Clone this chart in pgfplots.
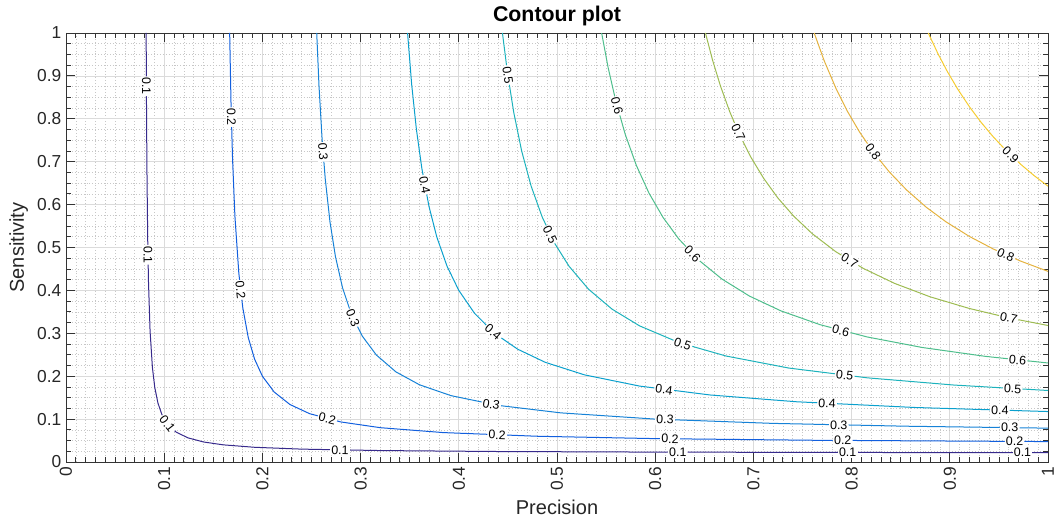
\documentclass[border=0pt]{standalone}
\usepackage{fontspec}
\setmainfont{Liberation Sans}
\usepackage{pgfplots}
\pgfplotsset{compat=1.18}
\definecolor{c1}{RGB}{55,42,140}
\definecolor{c2}{RGB}{18,95,222}
\definecolor{c3}{RGB}{22,130,215}
\definecolor{c4}{RGB}{10,160,205}
\definecolor{c5}{RGB}{28,178,188}
\definecolor{c6}{RGB}{78,190,140}
\definecolor{c7}{RGB}{158,188,82}
\definecolor{c8}{RGB}{228,178,62}
\definecolor{c9}{RGB}{246,204,48}
\tikzset{lbl/.style={font=\fontsize{9.3}{10}\selectfont, fill=white, inner sep=0.9pt}}
\begin{document}
\begin{tikzpicture}
\begin{axis}[
  scale only axis, width=736.5pt, height=321.75pt,
  xmin=0, xmax=1, ymin=0, ymax=1,
  xtick={0,0.1,0.2,0.3,0.4,0.5,0.6,0.7,0.8,0.9,1},
  ytick={0,0.1,0.2,0.3,0.4,0.5,0.6,0.7,0.8,0.9,1},
  minor x tick num=9, minor y tick num=3,
  grid=both,
  major grid style={line width=0.55pt, draw=black!14},
  minor grid style={line width=0.45pt, draw=black!22, dash pattern=on 0.6pt off 1.6pt},
  tick align=inside,
  major tick length=6.75pt, minor tick length=3.75pt,
  axis line style={draw=black!80, line width=0.6pt},
  every tick/.style={draw=black!80, line width=0.6pt},
  /pgf/number format/assume math mode=true,
  ticklabel style={font=\fontsize{13}{15}\selectfont, text=black!85},
  x tick label style={rotate=90, anchor=east},
  xlabel={Precision}, ylabel={Sensitivity},
  label style={font=\fontsize{15}{18}\selectfont, text=black!85},
  title={Contour plot},
  title style={font=\bfseries\fontsize{16}{19}\selectfont, yshift=-4pt},
  every axis plot/.append style={line width=0.75pt, no marks},
]
% level 0.1
\addplot[c1] coordinates {(0.08163,1.0)(0.082,0.82)(0.0824,0.6867)(0.0832,0.52)(0.084,0.42)(0.0856,0.3057)(0.088,0.22)(0.0904,0.1738)(0.0936,0.1376)(0.0976,0.1109)(0.104,0.0867)(0.112,0.07)(0.124,0.0564)(0.14,0.0467)(0.16,0.04)(0.192,0.0343)(0.24,0.03)(0.32,0.02667)(0.44,0.02444)(0.6,0.02308)(0.8,0.02222)(1.0,0.02174)};
% level 0.2
\addplot[c2] coordinates {(0.16667,1.0)(0.168,0.84)(0.1696,0.7067)(0.172,0.5733)(0.176,0.44)(0.18,0.36)(0.1856,0.29)(0.192,0.24)(0.2,0.2)(0.212,0.1631)(0.228,0.1341)(0.248,0.1127)(0.28,0.0933)(0.32,0.08)(0.384,0.0686)(0.48,0.06)(0.6,0.0545)(0.76,0.0507)(1.0,0.0476)};
% level 0.3
\addplot[c3] coordinates {(0.25532,1.0)(0.2576,0.8782)(0.2608,0.7523)(0.264,0.66)(0.2688,0.56)(0.2744,0.4786)(0.2816,0.4062)(0.2904,0.3457)(0.3016,0.2938)(0.316,0.2495)(0.336,0.21)(0.36,0.18)(0.392,0.1547)(0.44,0.132)(0.504,0.1145)(0.6,0.1)(0.72,0.09)(0.856,0.0834)(1.0,0.0789)};
% level 0.4
\addplot[c4] coordinates {(0.34783,1.0)(0.352,0.88)(0.3568,0.7757)(0.3624,0.6838)(0.3696,0.5961)(0.3776,0.5244)(0.388,0.4565)(0.4,0.4)(0.416,0.3467)(0.436,0.3007)(0.46,0.2629)(0.488,0.2324)(0.528,0.2031)(0.584,0.177)(0.656,0.1562)(0.744,0.1404)(0.864,0.1271)(1.0,0.1176)};
% level 0.5
\addplot[c5] coordinates {(0.44444,1.0)(0.4496,0.9065)(0.456,0.8143)(0.464,0.725)(0.4736,0.6435)(0.4848,0.5717)(0.4976,0.5098)(0.512,0.4571)(0.532,0.403)(0.556,0.3564)(0.584,0.3174)(0.624,0.2786)(0.672,0.2471)(0.736,0.219)(0.816,0.1962)(0.904,0.1794)(1.0,0.1667)};
% level 0.6
\addplot[c6] coordinates {(0.54545,1.0)(0.552,0.92)(0.56,0.84)(0.5696,0.7629)(0.5808,0.6914)(0.5936,0.627)(0.608,0.57)(0.624,0.52)(0.644,0.4712)(0.668,0.4264)(0.696,0.3867)(0.728,0.3523)(0.768,0.32)(0.816,0.2914)(0.872,0.2669)(0.936,0.2463)(1.0,0.2308)};
% level 0.7
\addplot[c7] coordinates {(0.65116,1.0)(0.6584,0.9367)(0.6664,0.8768)(0.676,0.8159)(0.6864,0.7603)(0.6976,0.7098)(0.7104,0.6613)(0.7248,0.6157)(0.7408,0.5736)(0.76,0.532)(0.784,0.49)(0.812,0.4511)(0.844,0.4161)(0.88,0.385)(0.92,0.3578)(0.96,0.336)(1.0,0.3182)};
% level 0.8
\addplot[c8] coordinates {(0.7619,1.0)(0.772,0.9358)(0.784,0.8711)(0.796,0.8164)(0.808,0.7695)(0.8224,0.7214)(0.8384,0.6761)(0.856,0.6341)(0.876,0.5939)(0.896,0.56)(0.92,0.5257)(0.944,0.4968)(0.972,0.4684)(1.0,0.4444)};
% level 0.9
\addplot[c9] coordinates {(0.87805,1.0)(0.888,0.9514)(0.8976,0.9097)(0.908,0.8694)(0.92,0.828)(0.932,0.7913)(0.944,0.7586)(0.9576,0.7255)(0.972,0.6943)(0.9856,0.668)(1.0,0.6429)};
% labels 0.1
\node[lbl, rotate=-89.7] at (axis cs:0.08187,0.876) {0.1};
\node[lbl, rotate=-89.0] at (axis cs:0.08346,0.483) {0.1};
\node[lbl, rotate=-52.4] at (axis cs:0.1032,0.089) {0.1};
\node[lbl, rotate=-1.0] at (axis cs:0.279,0.028) {0.1};
\node[lbl, rotate=-0.2] at (axis cs:0.623,0.0229) {0.1};
\node[lbl] at (axis cs:0.796,0.0222) {0.1};
\node[lbl] at (axis cs:0.974,0.0218) {0.1};
% labels 0.2
\node[lbl, rotate=-88.6] at (axis cs:0.16838,0.804) {0.2};
\node[lbl, rotate=-83.6] at (axis cs:0.17773,0.401) {0.2};
\node[lbl, rotate=-14.0] at (axis cs:0.266,0.1004) {0.2};
\node[lbl, rotate=-2.1] at (axis cs:0.439,0.0629) {0.2};
\node[lbl, rotate=-0.8] at (axis cs:0.615,0.0541) {0.2};
\node[lbl, rotate=-0.4] at (axis cs:0.791,0.0501) {0.2};
\node[lbl, rotate=-0.25] at (axis cs:0.966,0.0479) {0.2};
% labels 0.3
\node[lbl, rotate=-85.7] at (axis cs:0.26172,0.723) {0.3};
\node[lbl, rotate=-66.6] at (axis cs:0.29217,0.336) {0.3};
\node[lbl, rotate=-9.6] at (axis cs:0.433,0.1346) {0.3};
\node[lbl, rotate=-2.6] at (axis cs:0.61,0.0989) {0.3};
\node[lbl, rotate=-1.2] at (axis cs:0.787,0.0863) {0.3};
\node[lbl, rotate=-0.7] at (axis cs:0.961,0.0800) {0.3};
% labels 0.4
\node[lbl, rotate=-79.6] at (axis cs:0.36523,0.646) {0.4};
\node[lbl, rotate=-40.2] at (axis cs:0.435,0.3026) {0.4};
\node[lbl, rotate=-7.6] at (axis cs:0.609,0.1686) {0.4};
\node[lbl, rotate=-3.1] at (axis cs:0.775,0.1363) {0.4};
\node[lbl, rotate=-1.6] at (axis cs:0.951,0.1206) {0.4};
% labels 0.5
\node[lbl, rotate=-81.9] at (axis cs:0.44988,0.902) {0.5};
\node[lbl, rotate=-63.7] at (axis cs:0.493,0.5301) {0.5};
\node[lbl, rotate=-18.6] at (axis cs:0.628,0.2754) {0.5};
\node[lbl, rotate=-6.5] at (axis cs:0.793,0.2018) {0.5};
\node[lbl, rotate=-3.1] at (axis cs:0.964,0.1709) {0.5};
% labels 0.6
\node[lbl, rotate=-75.3] at (axis cs:0.56113,0.83) {0.6};
\node[lbl, rotate=-45.2] at (axis cs:0.638,0.4846) {0.6};
\node[lbl, rotate=-14.8] at (axis cs:0.789,0.3064) {0.6};
\node[lbl, rotate=-6.0] at (axis cs:0.969,0.2378) {0.6};
% labels 0.7
\node[lbl, rotate=-65.6] at (axis cs:0.68464,0.769) {0.7};
\node[lbl, rotate=-31.2] at (axis cs:0.798,0.4694) {0.7};
\node[lbl, rotate=-12.1] at (axis cs:0.96,0.336) {0.7};
% labels 0.8
\node[lbl, rotate=-53.5] at (axis cs:0.82188,0.723) {0.8};
\node[lbl, rotate=-24.0] at (axis cs:0.957,0.483) {0.8};
% labels 0.9
\node[lbl, rotate=-44.1] at (axis cs:0.96179,0.716) {0.9};
\end{axis}
\pgfresetboundingbox
\path[use as bounding box] ([shift={(-49.5pt,-48.75pt)}]current axis.south west) rectangle ([shift={(7.5pt,24.75pt)}]current axis.north east);
\end{tikzpicture}
\end{document}
